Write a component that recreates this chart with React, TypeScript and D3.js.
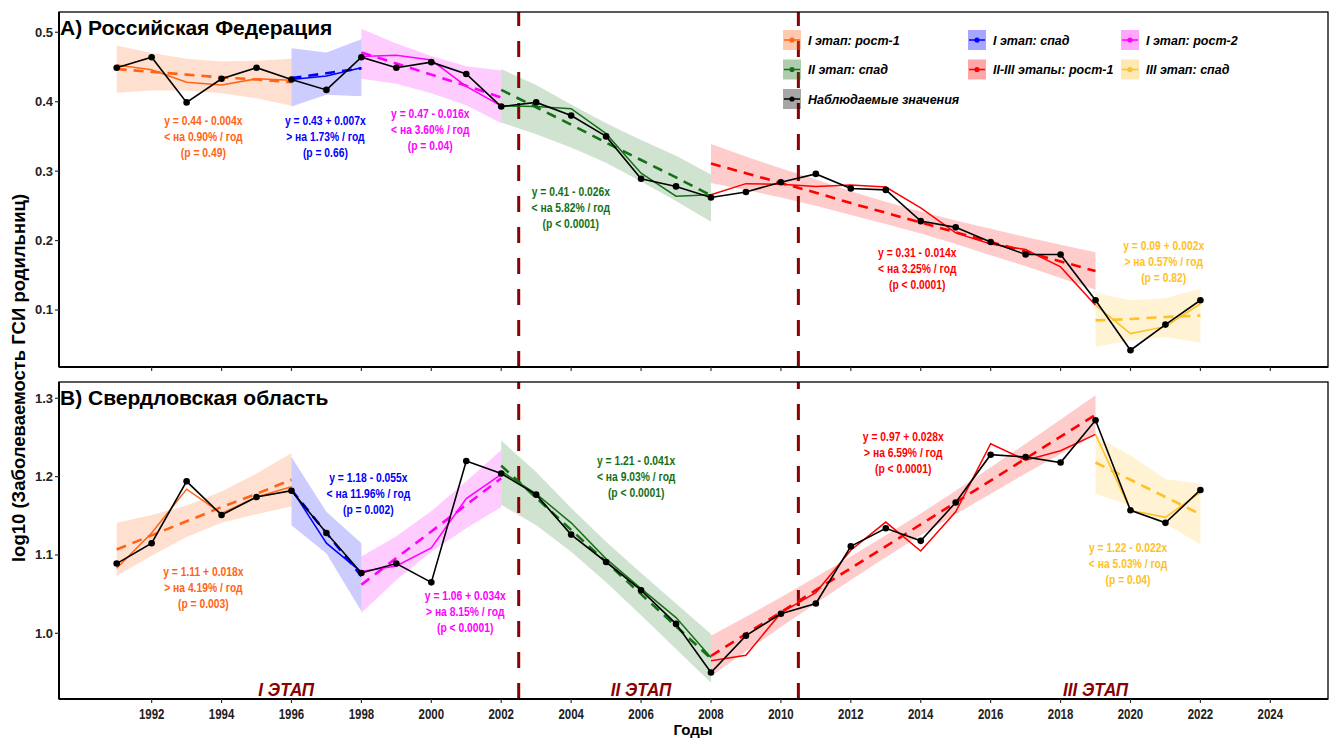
import React, { useRef, useEffect } from 'react';
import * as d3 from 'd3';

const years = [1991, 1992, 1993, 1994, 1995, 1996, 1997, 1998, 1999, 2000, 2001, 2002, 2003, 2004, 2005, 2006,
  2007, 2008, 2009, 2010, 2011, 2012, 2013, 2014, 2015, 2016, 2017, 2018, 2019, 2020, 2021, 2022];
const xTicks = [1992, 1994, 1996, 1998, 2000, 2002, 2004, 2006, 2008, 2010, 2012, 2014, 2016, 2018, 2020, 2022, 2024];

// observed log10 values
const rfObserved = [0.449, 0.464, 0.399, 0.433, 0.449, 0.432, 0.417, 0.464, 0.449, 0.457, 0.440, 0.393, 0.399, 0.380,
  0.350, 0.289, 0.278, 0.262, 0.270, 0.284, 0.296, 0.275, 0.273, 0.228, 0.219, 0.198, 0.180, 0.180, 0.114, 0.042, 0.079, 0.114];
const sverdObserved = [1.089, 1.115, 1.194, 1.151, 1.174, 1.182, 1.128, 1.077, 1.089, 1.065, 1.220, 1.204, 1.177, 1.126,
  1.091, 1.055, 1.012, 0.950, 0.997, 1.025, 1.038, 1.111, 1.134, 1.118, 1.167, 1.228, 1.225, 1.218, 1.272, 1.157, 1.141, 1.183];

const segmentNames = ['I этап: рост-1', 'I этап: спад', 'I этап: рост-2', 'II этап: спад', 'II-III этапы: рост-1', 'III этап: спад'];
const observedName = 'Наблюдаемые значения';
const segmentStart = [1991, 1996, 1998, 2002, 2008, 2019];
const segmentEnd = [1996, 1998, 2002, 2008, 2019, 2022];

// Российская Федерация
const rfFit = [
  [0.453, 0.446, 0.428, 0.424, 0.433, 0.431],
  [0.432, 0.437, 0.449],
  [0.465, 0.467, 0.460, 0.422, 0.394],
  [0.394, 0.393, 0.390, 0.354, 0.297, 0.264, 0.266],
  [0.266, 0.282, 0.281, 0.278, 0.280, 0.277, 0.247, 0.211, 0.195, 0.187, 0.162, 0.107],
  [0.107, 0.066, 0.076, 0.109]
];
const rfTrend = [
  [0.447, 0.443, 0.439, 0.435, 0.432, 0.428],
  [0.434, 0.441, 0.448],
  [0.471, 0.455, 0.439, 0.423, 0.406],
  [0.417, 0.392, 0.367, 0.341, 0.316, 0.291, 0.265],
  [0.311, 0.297, 0.283, 0.269, 0.254, 0.240, 0.226, 0.212, 0.198, 0.184, 0.170, 0.156],
  [0.085, 0.087, 0.090, 0.092]
];
const rfLow = [
  [0.413, 0.416, 0.416, 0.412, 0.405, 0.394],
  [0.393, 0.410, 0.408],
  [0.433, 0.426, 0.412, 0.395, 0.369],
  [0.370, 0.353, 0.334, 0.312, 0.285, 0.257, 0.227],
  [0.283, 0.273, 0.262, 0.250, 0.237, 0.224, 0.210, 0.195, 0.179, 0.163, 0.146, 0.129],
  [0.047, 0.056, 0.061, 0.053]
];
const rfHigh = [
  [0.481, 0.470, 0.462, 0.458, 0.459, 0.462],
  [0.477, 0.471, 0.490],
  [0.505, 0.484, 0.466, 0.451, 0.445],
  [0.447, 0.424, 0.396, 0.369, 0.345, 0.322, 0.295],
  [0.339, 0.321, 0.304, 0.288, 0.271, 0.256, 0.242, 0.229, 0.217, 0.205, 0.194, 0.183],
  [0.124, 0.114, 0.117, 0.131]
];
const rfEquation = ['y = 0.44 - 0.004x', 'y = 0.43 + 0.007x', 'y = 0.47 - 0.016x', 'y = 0.41 - 0.026x', 'y = 0.31 - 0.014x', 'y = 0.09 + 0.002x'];
const rfChange = ['< на 0.90% / год', '> на 1.73% / год', '< на 3.60% / год', '< на 5.82% / год', '< на 3.25% / год', '> на 0.57% / год'];
const rfPValue = ['(p = 0.49)', '(p = 0.66)', '(p = 0.04)', '(p < 0.0001)', '(p < 0.0001)', '(p = 0.82)'];

// Свердловская область
const sverdFit = [
  [1.083, 1.128, 1.184, 1.153, 1.174, 1.187],
  [1.184, 1.115, 1.078],
  [1.079, 1.086, 1.109, 1.172, 1.203],
  [1.207, 1.178, 1.141, 1.095, 1.057, 1.020, 0.969],
  [0.965, 0.972, 1.026, 1.052, 1.106, 1.142, 1.105, 1.155, 1.242, 1.221, 1.233, 1.254],
  [1.254, 1.157, 1.148, 1.180]
];
const sverdTrend = [
  [1.107, 1.125, 1.143, 1.161, 1.178, 1.196],
  [1.183, 1.128, 1.073],
  [1.062, 1.096, 1.130, 1.164, 1.198],
  [1.214, 1.173, 1.132, 1.091, 1.050, 1.009, 0.968],
  [0.971, 0.999, 1.027, 1.055, 1.083, 1.111, 1.139, 1.167, 1.195, 1.223, 1.251, 1.279],
  [1.218, 1.196, 1.174, 1.152]
];
const sverdLow = [
  [1.073, 1.099, 1.123, 1.141, 1.152, 1.162],
  [1.138, 1.102, 1.028],
  [1.026, 1.068, 1.104, 1.134, 1.161],
  [1.164, 1.138, 1.104, 1.065, 1.023, 0.980, 0.937],
  [0.945, 0.977, 1.008, 1.038, 1.068, 1.097, 1.125, 1.152, 1.178, 1.204, 1.229, 1.254],
  [1.178, 1.163, 1.140, 1.113]
];
const sverdHigh = [
  [1.141, 1.151, 1.163, 1.181, 1.204, 1.230],
  [1.225, 1.155, 1.115],
  [1.098, 1.124, 1.156, 1.194, 1.234],
  [1.246, 1.206, 1.160, 1.117, 1.077, 1.038, 0.999],
  [0.997, 1.021, 1.046, 1.072, 1.098, 1.125, 1.153, 1.182, 1.212, 1.242, 1.273, 1.304],
  [1.252, 1.227, 1.197, 1.191]
];
const sverdEquation = ['y = 1.11 + 0.018x', 'y = 1.18 - 0.055x', 'y = 1.06 + 0.034x', 'y = 1.21 - 0.041x', 'y = 0.97 + 0.028x', 'y = 1.22 - 0.022x'];
const sverdChange = ['> на 4.19% / год', '< на 11.96% / год', '> на 8.15% / год', '< на 9.03% / год', '> на 6.59% / год', '< на 5.03% / год'];
const sverdPValue = ['(p = 0.003)', '(p = 0.002)', '(p < 0.0001)', '(p < 0.0001)', '(p < 0.0001)', '(p = 0.04)'];

const stageNames = ['I ЭТАП', 'II ЭТАП', 'III ЭТАП'];
const stageBreaks = [2002.5, 2010.5];

const colors = ['#FF6414', '#0000FF', '#FF00FF', '#157015', '#FF0000', '#FFC125'];
const stageColor = '#8B0000';
const sans = "'Liberation Sans', Arial, sans-serif";

const App = () => {
  const chartRef = useRef<SVGSVGElement>(null);

  useEffect(() => {
    const width = 1333;
    const height = 738;
    const left = 59;
    const right = 1328;

    const svg = d3.select(chartRef.current);
    svg.selectAll('*').remove();
    svg.attr('width', width).attr('height', height);

    const x = d3.scaleLinear().domain([1989.35, 2025.65]).range([left, right]);

    // bold text squeezed horizontally (the original uses a narrow face)
    const narrowText = (g: any, px: number, py: number, size: number, squeeze: number) =>
      g.append('text')
        .attr('transform', `translate(${px},${py}) scale(${squeeze},1)`)
        .attr('text-anchor', 'middle')
        .attr('font-family', sans)
        .attr('font-weight', 'bold')
        .attr('font-size', size);

    const panels = [
      {
        title: 'A) Российская Федерация',
        y: d3.scaleLinear().domain([0.0179, 0.5292]).range([367, 12]),
        ticks: [0.1, 0.2, 0.3, 0.4, 0.5],
        observed: rfObserved, fit: rfFit, trend: rfTrend, low: rfLow, high: rfHigh,
        eq: rfEquation, change: rfChange, p: rfPValue,
        // annotation anchors, data units (year, value)
        noteX: [1993.48, 1996.97, 1999.97, 2003.99, 2013.9, 2020.95],
        noteY: [0.372, 0.372, 0.383, 0.270, 0.182, 0.192],
        bottomAxis: false
      },
      {
        title: 'B) Свердловская область',
        y: d3.scaleLinear().domain([0.9161, 1.3208]).range([699, 382]),
        ticks: [1.0, 1.1, 1.2, 1.3],
        observed: sverdObserved, fit: sverdFit, trend: sverdTrend, low: sverdLow, high: sverdHigh,
        eq: sverdEquation, change: sverdChange, p: sverdPValue,
        noteX: [1993.48, 1998.2, 2000.97, 2005.86, 2013.5, 2019.93],
        noteY: [1.078, 1.198, 1.048, 1.220, 1.250, 1.109],
        bottomAxis: true
      }
    ];

    panels.forEach(panel => {
      const y = panel.y;
      const [yBottom, yTop] = y.range();
      const g = svg.append('g');

      // confidence ribbons
      segmentNames.forEach((_, s) => {
        const yrs = years.filter(yr => yr >= segmentStart[s] && yr <= segmentEnd[s]);
        const area = d3.area<number>()
          .x(yr => x(yr))
          .y0((_, i) => y(panel.low[s][i]))
          .y1((_, i) => y(panel.high[s][i]));
        g.append('path').datum(yrs)
          .attr('d', area)
          .attr('fill', colors[s])
          .attr('fill-opacity', 0.2);
      });

      // stage borders
      stageBreaks.forEach(b => {
        g.append('line')
          .attr('x1', x(b)).attr('x2', x(b))
          .attr('y1', yBottom).attr('y2', yTop)
          .attr('stroke', stageColor)
          .attr('stroke-width', 3)
          .attr('stroke-dasharray', '16,15');
      });

      // linear trends and fitted lines
      segmentNames.forEach((_, s) => {
        const yrs = years.filter(yr => yr >= segmentStart[s] && yr <= segmentEnd[s]);
        const trendLine = d3.line<number>().x(yr => x(yr)).y((_, i) => y(panel.trend[s][i]));
        g.append('path').datum(yrs)
          .attr('d', trendLine)
          .attr('fill', 'none')
          .attr('stroke', colors[s])
          .attr('stroke-width', 2.6)
          .attr('stroke-dasharray', '10,7');
        const fitLine = d3.line<number>().x(yr => x(yr)).y((_, i) => y(panel.fit[s][i]));
        g.append('path').datum(yrs)
          .attr('d', fitLine)
          .attr('fill', 'none')
          .attr('stroke', colors[s])
          .attr('stroke-width', 1.5);
      });

      // observed values
      const obsLine = d3.line<number>().x(yr => x(yr)).y((_, i) => y(panel.observed[i]));
      g.append('path').datum(years)
        .attr('d', obsLine)
        .attr('fill', 'none')
        .attr('stroke', '#000')
        .attr('stroke-width', 1.6);
      g.selectAll('circle.obs').data(years).join('circle')
        .attr('class', 'obs')
        .attr('cx', yr => x(yr))
        .attr('cy', (_, i) => y(panel.observed[i]))
        .attr('r', 3.3)
        .attr('fill', '#000');

      // regression annotations
      segmentNames.forEach((_, s) => {
        [panel.eq[s], panel.change[s], panel.p[s]].forEach((line, i) => {
          narrowText(g, x(panel.noteX[s]), y(panel.noteY[s]) + 4 + i * 16, 12, 0.86)
            .attr('fill', colors[s])
            .text(line);
        });
      });

      // frame and axes
      g.append('rect')
        .attr('x', left).attr('y', yTop)
        .attr('width', right - left).attr('height', yBottom - yTop)
        .attr('fill', 'none').attr('stroke', '#000').attr('stroke-width', 1.3);
      g.append('line').attr('x1', left).attr('x2', left).attr('y1', yTop).attr('y2', yBottom)
        .attr('stroke', '#000').attr('stroke-width', 2);
      g.append('line').attr('x1', left).attr('x2', right).attr('y1', yBottom).attr('y2', yBottom)
        .attr('stroke', '#000').attr('stroke-width', 2);

      panel.ticks.forEach(tk => {
        g.append('line').attr('x1', left - 4).attr('x2', left).attr('y1', y(tk)).attr('y2', y(tk))
          .attr('stroke', '#333').attr('stroke-width', 1.2);
        g.append('text')
          .attr('x', left - 6).attr('y', y(tk) + 4.5)
          .attr('text-anchor', 'end')
          .attr('font-family', sans).attr('font-weight', 'bold').attr('font-size', 13)
          .attr('fill', '#222')
          .text(d3.format('.1f')(tk));
      });

      xTicks.forEach(tk => {
        g.append('line').attr('x1', x(tk)).attr('x2', x(tk)).attr('y1', yBottom).attr('y2', yBottom + 4)
          .attr('stroke', '#333').attr('stroke-width', 1.2);
        if (panel.bottomAxis) {
          narrowText(g, x(tk), yBottom + 20, 14, 0.82)
            .attr('fill', '#222')
            .text(tk);
        }
      });

      g.append('text')
        .attr('x', left + 1).attr('y', yTop + 23)
        .attr('font-family', sans).attr('font-weight', 'bold').attr('font-size', 21)
        .attr('fill', '#000')
        .text(panel.title);

      if (panel.bottomAxis) {
        const stageX = [1995.85, 2006.0, 2019.0];
        stageNames.forEach((name, i) => {
          narrowText(g, x(stageX[i]), yBottom - 3, 19, 0.9)
            .attr('font-style', 'italic')
            .attr('fill', stageColor)
            .text(name);
        });
      }
    });

    // legend
    const legend = svg.append('g');
    const colX = [783, 968, 1121];
    const rowY = [40, 69.5, 99];
    const items = segmentNames.map((name, i) => ({ name, color: colors[i] }))
      .concat([{ name: observedName, color: '#000' }]);
    items.forEach((item, i) => {
      const cx = colX[i % 3];
      const cy = rowY[Math.floor(i / 3)];
      legend.append('rect')
        .attr('x', cx).attr('y', cy - 10)
        .attr('width', 18).attr('height', 20)
        .attr('fill', item.color).attr('fill-opacity', 0.35);
      legend.append('line')
        .attr('x1', cx + 1).attr('x2', cx + 17).attr('y1', cy).attr('y2', cy)
        .attr('stroke', item.color).attr('stroke-width', 1.5);
      legend.append('circle')
        .attr('cx', cx + 9).attr('cy', cy).attr('r', 2.6)
        .attr('fill', item.color);
      legend.append('text')
        .attr('x', cx + 25).attr('y', cy + 4.5)
        .attr('font-family', sans).attr('font-weight', 'bold').attr('font-style', 'italic')
        .attr('font-size', 12.5)
        .attr('fill', '#000')
        .text(item.name);
    });

    // axis titles
    svg.append('text')
      .attr('transform', 'translate(25,378) rotate(-90)')
      .attr('text-anchor', 'middle')
      .attr('font-family', sans).attr('font-weight', 'bold').attr('font-size', 18.5)
      .attr('fill', '#000')
      .text('log10 (Заболеваемость ГСИ родильниц)');
    svg.append('text')
      .attr('x', 693).attr('y', 735)
      .attr('text-anchor', 'middle')
      .attr('font-family', sans).attr('font-weight', 'bold').attr('font-size', 15)
      .attr('fill', '#000')
      .text('Годы');
  }, []);

  return (
    <svg
      ref={chartRef}
      style={{ position: 'absolute', left: 0, top: 0, background: '#fff', display: 'block' }}
    ></svg>
  );
};

export default App;
